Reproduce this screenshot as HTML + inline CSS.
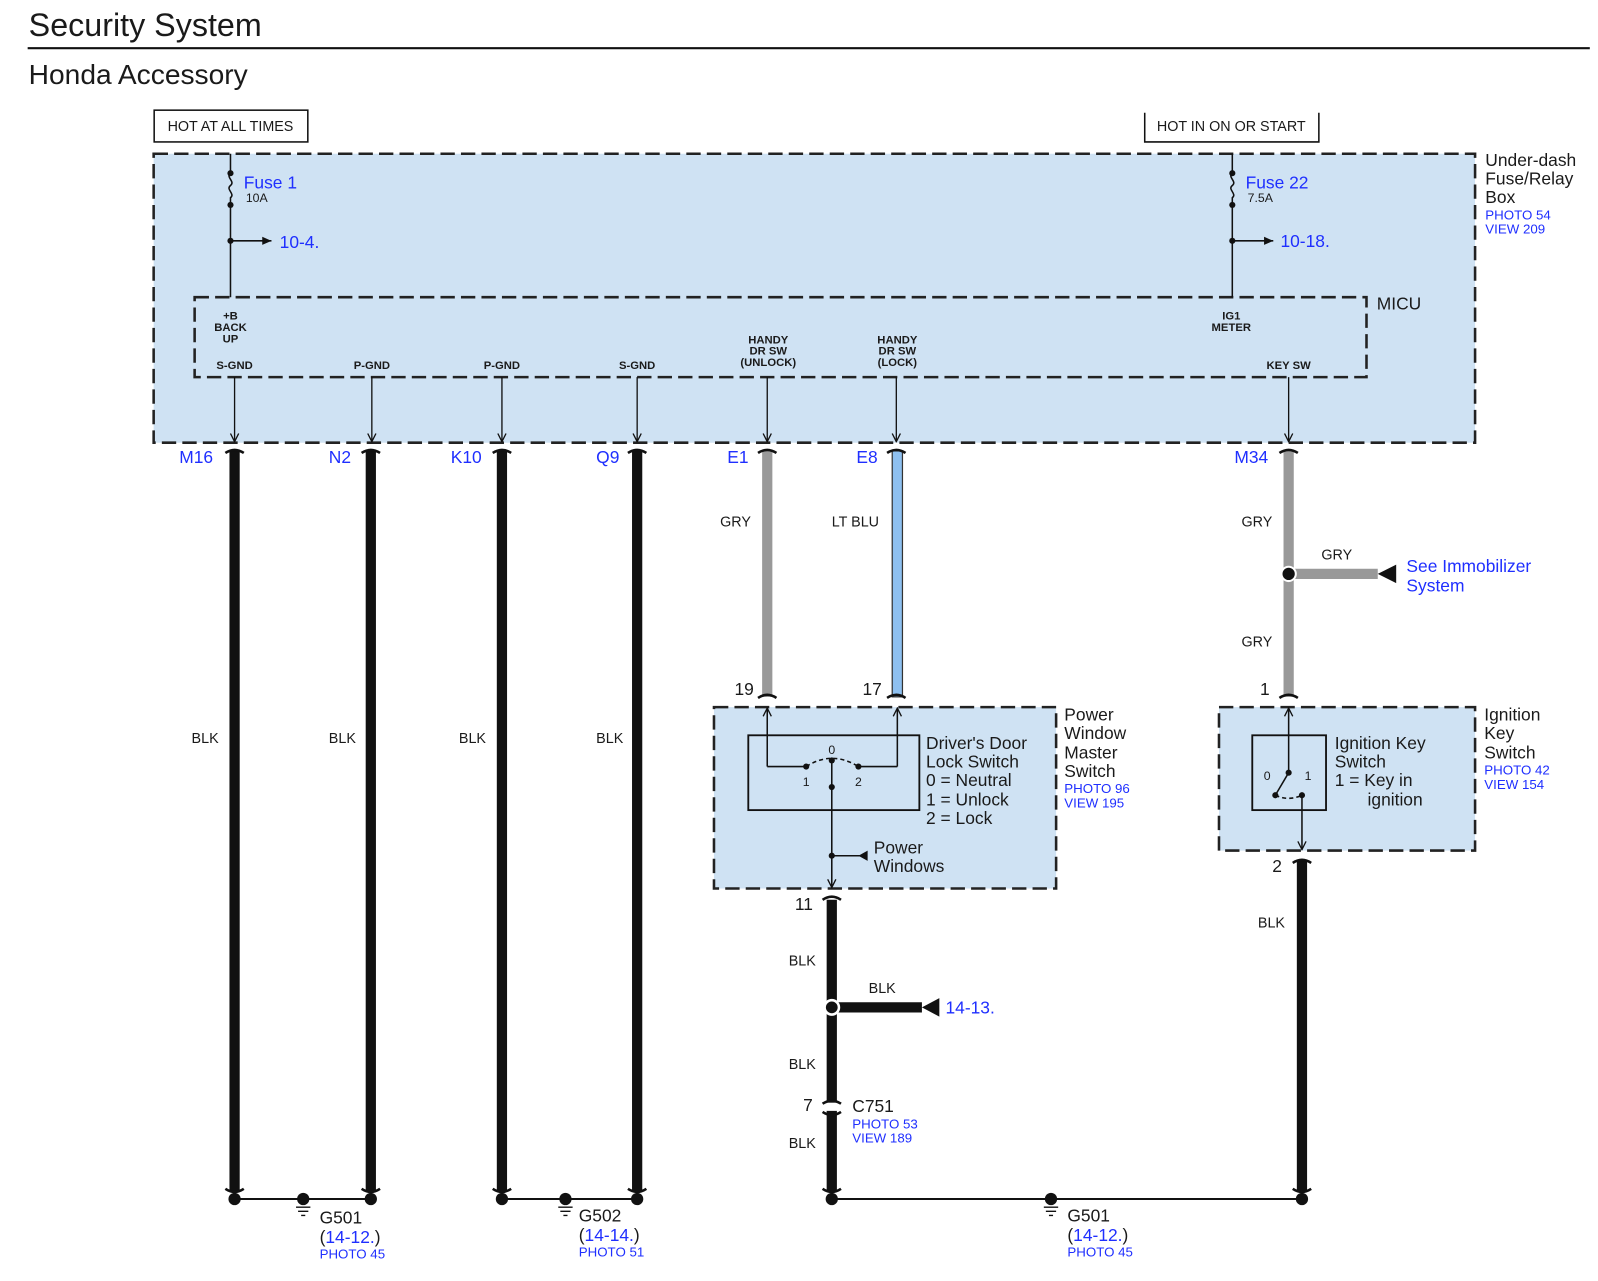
<!DOCTYPE html>
<html><head><meta charset="utf-8"><style>
html,body{margin:0;padding:0;background:#fff;}
svg{display:block;}
text{font-family:"Liberation Sans",sans-serif;fill:#1a1a1a;}
.b{fill:#1f2fff;}
.s{font-size:11px;font-weight:bold;}
.w{font-size:14px;}
.l{font-size:17px;}
</style></head><body>
<svg width="1598" height="1281" viewBox="0 0 1560 1250" preserveAspectRatio="none" xmlns="http://www.w3.org/2000/svg">
<defs>
<marker id="ar" markerWidth="10" markerHeight="10" refX="9" refY="5" orient="auto" markerUnits="userSpaceOnUse"><path d="M1,1 L9,5 L1,9" fill="none" stroke="#111" stroke-width="1.3"/></marker>
<marker id="af" markerWidth="10" markerHeight="10" refX="9" refY="5" orient="auto" markerUnits="userSpaceOnUse"><path d="M0,1 L9,5 L0,9z" fill="#111"/></marker>
</defs>
<text x="28" y="35" style="font-size:31.5px">Security System</text>
<line x1="27" y1="47" x2="1552" y2="47" stroke="#111" stroke-width="2"/>
<text x="28" y="82" style="font-size:27.5px">Honda Accessory</text>

<rect x="150.5" y="107.5" width="150" height="31" fill="none" stroke="#111" stroke-width="1.5"/>
<text x="225" y="128" class="w" text-anchor="middle">HOT AT ALL TIMES</text>
<path d="M1117.5,110 V138.5 H1287.5 V110" fill="none" stroke="#111" stroke-width="1.5"/>
<text x="1202" y="128" class="w" text-anchor="middle">HOT IN ON OR START</text>

<rect x="150" y="150" width="1290" height="282" fill="#cfe2f3" stroke="#222" stroke-width="2.5" stroke-dasharray="14,6"/>
<rect x="190" y="290" width="1144" height="78" fill="none" stroke="#222" stroke-width="2.5" stroke-dasharray="14,6"/>

<g stroke="#111" stroke-width="1.5" fill="none">
<path d="M225,150 V169 c-5,4 5,8 0,12 c-5,4 5,8 0,12 V290"/>
<line x1="225" y1="235" x2="265" y2="235" marker-end="url(#af)"/>
<path d="M1203,150 V169 c-5,4 5,8 0,12 c-5,4 5,8 0,12 V290"/>
<line x1="1203" y1="235" x2="1243" y2="235" marker-end="url(#af)"/>
</g>
<g fill="#111"><circle cx="225" cy="169" r="3"/><circle cx="225" cy="200" r="3"/><circle cx="225" cy="235" r="3"/>
<circle cx="1203" cy="169" r="3"/><circle cx="1203" cy="200" r="3"/><circle cx="1203" cy="235" r="3"/></g>
<text x="238" y="184" class="l b">Fuse 1</text><text x="240" y="197" style="font-size:12px">10A</text>
<text x="273" y="242" class="l b">10-4.</text>
<text x="1216" y="184" class="l b">Fuse 22</text><text x="1218" y="197" style="font-size:12px">7.5A</text>
<text x="1250" y="241" class="l b">10-18.</text>
<text x="1450" y="162" class="l">Under-dash</text><text x="1450" y="180" class="l">Fuse/Relay</text><text x="1450" y="198" class="l">Box</text>
<text x="1450" y="214" style="font-size:13px" class="b">PHOTO 54</text><text x="1450" y="228" style="font-size:13px" class="b">VIEW 209</text>
<text x="1344" y="302" class="l">MICU</text>

<g class="s" text-anchor="middle">
<text x="225" y="312" class="s">+B</text><text x="225" y="323" class="s">BACK</text><text x="225" y="334" class="s">UP</text>
<text x="229" y="360" class="s">S-GND</text><text x="363" y="360" class="s">P-GND</text><text x="490" y="360" class="s">P-GND</text><text x="622" y="360" class="s">S-GND</text>
<text x="750" y="335" class="s">HANDY</text><text x="750" y="346" class="s">DR SW</text><text x="750" y="357" class="s">(UNLOCK)</text>
<text x="876" y="335" class="s">HANDY</text><text x="876" y="346" class="s">DR SW</text><text x="876" y="357" class="s">(LOCK)</text>
<text x="1202" y="312" class="s">IG1</text><text x="1202" y="323" class="s">METER</text>
<text x="1258" y="360" class="s">KEY SW</text>
</g>
<g stroke="#111" stroke-width="1.3">
<line x1="229" y1="368" x2="229" y2="431" marker-end="url(#ar)"/>
<line x1="363" y1="368" x2="363" y2="431" marker-end="url(#ar)"/>
<line x1="490" y1="368" x2="490" y2="431" marker-end="url(#ar)"/>
<line x1="622" y1="368" x2="622" y2="431" marker-end="url(#ar)"/>
<line x1="749" y1="368" x2="749" y2="431" marker-end="url(#ar)"/>
<line x1="875" y1="368" x2="875" y2="431" marker-end="url(#ar)"/>
<line x1="1258" y1="368" x2="1258" y2="431" marker-end="url(#ar)"/>
</g>

<g stroke-width="10">
<line x1="229" y1="440" x2="229" y2="1162" stroke="#111"/>
<line x1="362" y1="440" x2="362" y2="1162" stroke="#111"/>
<line x1="490" y1="440" x2="490" y2="1162" stroke="#111"/>
<line x1="622" y1="440" x2="622" y2="1162" stroke="#111"/>
<line x1="749" y1="440" x2="749" y2="680" stroke="#999"/>
<line x1="1258" y1="440" x2="1258" y2="680" stroke="#999"/>
<line x1="812" y1="878" x2="812" y2="1162" stroke="#111"/>
<line x1="1271" y1="840" x2="1271" y2="1162" stroke="#111"/>
<line x1="1258" y1="560" x2="1345" y2="560" stroke="#999"/>
<line x1="812" y1="983" x2="900" y2="983" stroke="#111"/>
</g>
<rect x="871" y="440" width="10" height="240" fill="#8ec0f0" stroke="#333" stroke-width="1.2"/>
<g fill="none" stroke="#111" stroke-width="2.5">
<path d="M220,442 q9,-6 18,0"/><path d="M353,442 q9,-6 18,0"/><path d="M481,442 q9,-6 18,0"/><path d="M613,442 q9,-6 18,0"/>
<path d="M740,442 q9,-6 18,0"/><path d="M866,442 q9,-6 18,0"/><path d="M1249,442 q9,-6 18,0"/>
<path d="M740,681 q9,-6 18,0"/><path d="M866,681 q9,-6 18,0"/><path d="M1249,681 q9,-6 18,0"/>
<path d="M803,878 q9,-6 18,0"/><path d="M1262,842 q9,-6 18,0"/>
<path d="M220,1160 q9,6 18,0"/><path d="M353,1160 q9,6 18,0"/><path d="M481,1160 q9,6 18,0"/><path d="M613,1160 q9,6 18,0"/>
<path d="M803,1160 q9,6 18,0"/><path d="M1262,1160 q9,6 18,0"/>
</g>
<rect x="806" y="1076" width="12" height="8" fill="#fff"/>
<path d="M803,1077 q9,-6 18,0 M803,1085 q9,6 18,0" fill="none" stroke="#111" stroke-width="2.5"/>

<text x="175" y="452" class="l b">M16</text><text x="321" y="452" class="l b">N2</text><text x="440" y="452" class="l b">K10</text>
<text x="582" y="452" class="l b">Q9</text><text x="710" y="452" class="l b">E1</text><text x="836" y="452" class="l b">E8</text><text x="1205" y="452" class="l b">M34</text>
<text x="703" y="514" class="w">GRY</text><text x="812" y="514" class="w">LT BLU</text><text x="1212" y="514" class="w">GRY</text>
<text x="1290" y="546" class="w">GRY</text><text x="1212" y="631" class="w">GRY</text>
<text x="187" y="725" class="w">BLK</text><text x="321" y="725" class="w">BLK</text><text x="448" y="725" class="w">BLK</text><text x="582" y="725" class="w">BLK</text>
<circle cx="1258" cy="560" r="7" fill="#111" stroke="#fff" stroke-width="2"/>
<path d="M1345,560 L1363,551 V569z" fill="#111"/>
<text x="1373" y="558" class="l b">See Immobilizer</text><text x="1373" y="577" class="l b">System</text>

<text x="717" y="678" class="l">19</text><text x="842" y="678" class="l">17</text><text x="1230" y="678" class="l">1</text>

<rect x="697" y="690" width="334" height="177" fill="#cfe2f3" stroke="#222" stroke-width="2.5" stroke-dasharray="14,6"/>
<rect x="730.5" y="717.5" width="167" height="73" fill="none" stroke="#111" stroke-width="1.8"/>
<g stroke="#111" stroke-width="1.5" fill="none">
<path d="M749,748 V691" marker-end="url(#ar)"/><line x1="749" y1="748" x2="787" y2="748"/>
<path d="M876,748 V691" marker-end="url(#ar)"/><line x1="876" y1="748" x2="838" y2="748"/>
<path d="M787,748 Q812,732 838,748" stroke-dasharray="4,3"/>
<line x1="812" y1="741" x2="812" y2="866" marker-end="url(#ar)"/>
<line x1="812" y1="835" x2="845" y2="835"/>
</g>
<path d="M838,835 L847,830 V840z" fill="#111"/>
<g fill="#111"><circle cx="787" cy="748" r="3"/><circle cx="838" cy="748" r="3"/><circle cx="812" cy="742" r="3"/><circle cx="812" cy="768" r="3"/><circle cx="812" cy="835" r="3"/></g>
<text x="812" y="736" style="font-size:12px" text-anchor="middle">0</text>
<text x="787" y="767" style="font-size:12px" text-anchor="middle">1</text>
<text x="838" y="767" style="font-size:12px" text-anchor="middle">2</text>
<text x="904" y="731" class="l">Driver's Door</text><text x="904" y="749" class="l">Lock Switch</text><text x="904" y="767" class="l">0 = Neutral</text>
<text x="904" y="786" class="l">1 = Unlock</text><text x="904" y="804" class="l">2 = Lock</text>
<text x="853" y="833" class="l">Power</text><text x="853" y="851" class="l">Windows</text>
<text x="1039" y="703" class="l">Power</text><text x="1039" y="721" class="l">Window</text><text x="1039" y="740" class="l">Master</text><text x="1039" y="758" class="l">Switch</text>
<text x="1039" y="774" style="font-size:13px" class="b">PHOTO 96</text><text x="1039" y="788" style="font-size:13px" class="b">VIEW 195</text>

<rect x="1190" y="690" width="250" height="140" fill="#cfe2f3" stroke="#222" stroke-width="2.5" stroke-dasharray="14,6"/>
<rect x="1222.5" y="717.5" width="72" height="73" fill="none" stroke="#111" stroke-width="1.8"/>
<g stroke="#111" stroke-width="1.5" fill="none">
<path d="M1258,754 V691" marker-end="url(#ar)"/>
<line x1="1258" y1="754" x2="1245" y2="776"/>
<path d="M1245,776 Q1258,782 1271,776" stroke-dasharray="4,3"/>
<line x1="1271" y1="776" x2="1271" y2="829" marker-end="url(#ar)"/>
</g>
<g fill="#111"><circle cx="1258" cy="754" r="3"/><circle cx="1245" cy="776" r="3"/><circle cx="1271" cy="776" r="3"/></g>
<text x="1237" y="761" style="font-size:12px" text-anchor="middle">0</text><text x="1277" y="761" style="font-size:12px" text-anchor="middle">1</text>
<text x="1303" y="731" class="l">Ignition Key</text><text x="1303" y="749" class="l">Switch</text><text x="1303" y="767" class="l">1 = Key in</text><text x="1335" y="786" class="l">ignition</text>
<text x="1449" y="703" class="l">Ignition</text><text x="1449" y="721" class="l">Key</text><text x="1449" y="740" class="l">Switch</text>
<text x="1449" y="756" style="font-size:13px" class="b">PHOTO 42</text><text x="1449" y="770" style="font-size:13px" class="b">VIEW 154</text>
<text x="1242" y="851" class="l">2</text>
<text x="1228" y="905" class="w">BLK</text>

<text x="776" y="888" class="l">11</text>
<text x="770" y="942" class="w">BLK</text><text x="848" y="969" class="w">BLK</text>
<circle cx="812" cy="983" r="7" fill="#111" stroke="#fff" stroke-width="2.5"/>
<path d="M900,983 L917,974 V992z" fill="#111"/>
<text x="923" y="989" class="l b">14-13.</text>
<text x="770" y="1043" class="w">BLK</text>
<text x="784" y="1084" class="l">7</text>
<text x="832" y="1085" class="l">C751</text>
<text x="832" y="1101" style="font-size:13px" class="b">PHOTO 53</text><text x="832" y="1115" style="font-size:13px" class="b">VIEW 189</text>
<text x="770" y="1120" class="w">BLK</text>

<g stroke="#111" stroke-width="2"><line x1="229" y1="1170" x2="362" y2="1170"/><line x1="490" y1="1170" x2="622" y2="1170"/><line x1="812" y1="1170" x2="1271" y2="1170"/></g>
<g fill="#111">
<circle cx="229" cy="1170" r="6"/><circle cx="362" cy="1170" r="6"/><circle cx="296" cy="1170" r="6"/>
<circle cx="490" cy="1170" r="6"/><circle cx="622" cy="1170" r="6"/><circle cx="552" cy="1170" r="6"/>
<circle cx="812" cy="1170" r="6"/><circle cx="1271" cy="1170" r="6"/><circle cx="1026" cy="1170" r="6"/>
</g>
<g stroke="#111" stroke-width="1.3">
<path d="M289,1178 h14 M291,1182 h10 M294,1186 h4"/>
<path d="M545,1178 h14 M547,1182 h10 M550,1186 h4"/>
<path d="M1019,1178 h14 M1021,1182 h10 M1024,1186 h4"/>
</g>
<text x="312" y="1194" class="l">G501</text><text x="312" y="1213" class="l">(<tspan class="b">14-12.</tspan>)</text><text x="312" y="1228" style="font-size:13px" class="b">PHOTO 45</text>
<text x="565" y="1192" class="l">G502</text><text x="565" y="1211" class="l">(<tspan class="b">14-14.</tspan>)</text><text x="565" y="1226" style="font-size:13px" class="b">PHOTO 51</text>
<text x="1042" y="1192" class="l">G501</text><text x="1042" y="1211" class="l">(<tspan class="b">14-12.</tspan>)</text><text x="1042" y="1226" style="font-size:13px" class="b">PHOTO 45</text>
</svg>
</body></html>
